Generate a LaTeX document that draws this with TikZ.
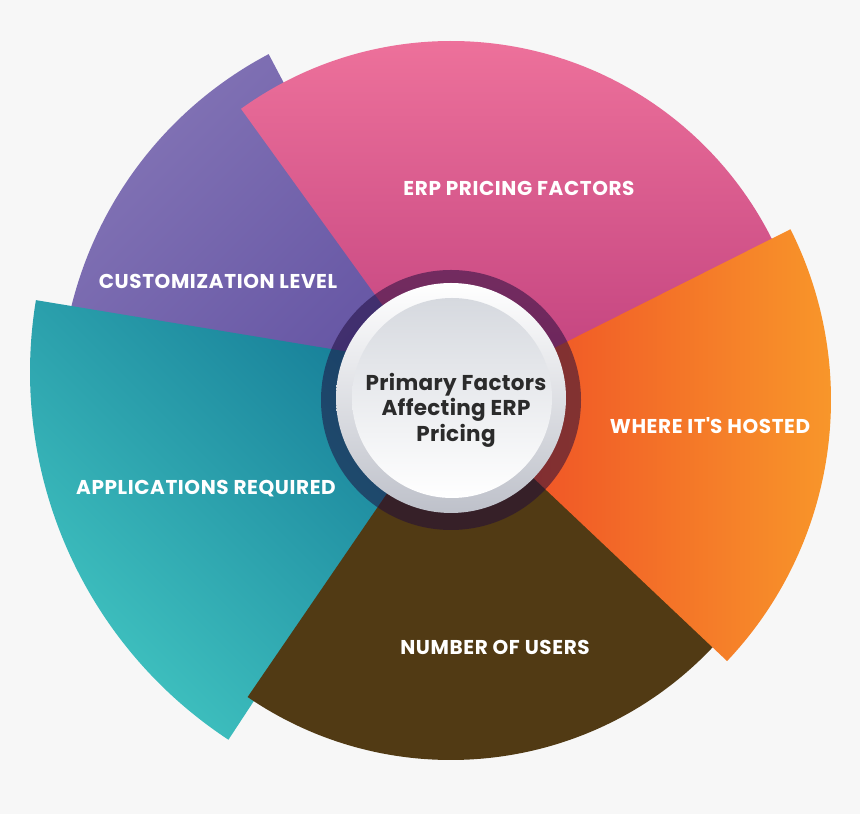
\documentclass[tikz,border=0pt]{standalone}
\usepackage{fontspec}
\setmainfont{Poppins}
\newfontfamily\labelfont[LetterSpace=3]{Poppins}
\newfontfamily\corefont[LetterSpace=1.5]{Poppins}
\usepackage{xcolor}

\definecolor{bgpaper}{HTML}{F7F7F7}
\definecolor{pinktop}{HTML}{EF739C}
\definecolor{pinkbot}{HTML}{BF3F7D}
\definecolor{purplelight}{HTML}{8475B6}
\definecolor{purpledark}{HTML}{6252A2}
\definecolor{teallight}{HTML}{42C6C2}
\definecolor{tealdark}{HTML}{157C97}
\definecolor{brownfill}{HTML}{513A14}
\definecolor{orangeleft}{HTML}{EE4426}
\definecolor{orangeright}{HTML}{F99D2A}
\definecolor{ringshade}{HTML}{1E0A3C}
\definecolor{discgray}{HTML}{BEC1CA}
\definecolor{innergray}{HTML}{D6D9DF}
\definecolor{textdark}{HTML}{2B2B2B}

\begin{document}
\begin{tikzpicture}[x=1pt, y=1pt,
    seclabel/.style={text=white, font=\labelfont\fontsize{20}{24}\selectfont\bfseries},
    coretext/.style={text=textdark, align=center, font=\corefont\fontsize{21.5}{25.5}\selectfont\bfseries}]
    % Background
    \fill[bgpaper] (0,0) rectangle (860,814);
    \useasboundingbox (0,0) rectangle (860,814);
    \coordinate (c) at (451,414);
    \coordinate (ct) at (470,442);

    % Sectors, back to front
    \shade[top color=purplelight, bottom color=purpledark, shading angle=45]
        (c) -- ++(117.8:391) arc (117.8:185:391) -- cycle;
    \shade[top color=tealdark, bottom color=teallight, shading angle=-45]
        (ct) -- ++(170.6:440) arc (170.6:236.7:440) -- cycle;
    \fill[brownfill] (c) -- ++(235.6:360) arc (235.6:320:360) -- cycle;
    \shade[top color=pinktop, bottom color=pinkbot]
        (c) -- ++(15:359) arc (15:125.8:359) -- cycle;
    \shade[left color=orangeleft, right color=orangeright]
        (c) -- ++(-43.4:380) arc (-43.4:26.7:380) -- cycle;

    % Centre ring and disc
    \fill[ringshade, opacity=0.52] (c) circle (130);
    \shade[top color=white, bottom color=discgray] (451,416) circle (115);
    \shade[top color=innergray, bottom color=white] (452,416) circle (100);

    % Labels
    \node[seclabel] (erp) at (519,626) {ERP PRICING FACTORS};
    \node[seclabel] (custom) at (218,533) {CUSTOMIZATION LEVEL};
    \node[seclabel] (apps) at (206,325) {APPLICATIONS REQUIRED};
    \node[seclabel] (hosted) at (710,388) {WHERE IT\textquotesingle S HOSTED};
    \node[seclabel] (users) at (495,167) {NUMBER OF USERS};
    \node[coretext] (core) at (456,404) {Primary Factors\\Affecting ERP\\Pricing};
\end{tikzpicture}
\end{document}
